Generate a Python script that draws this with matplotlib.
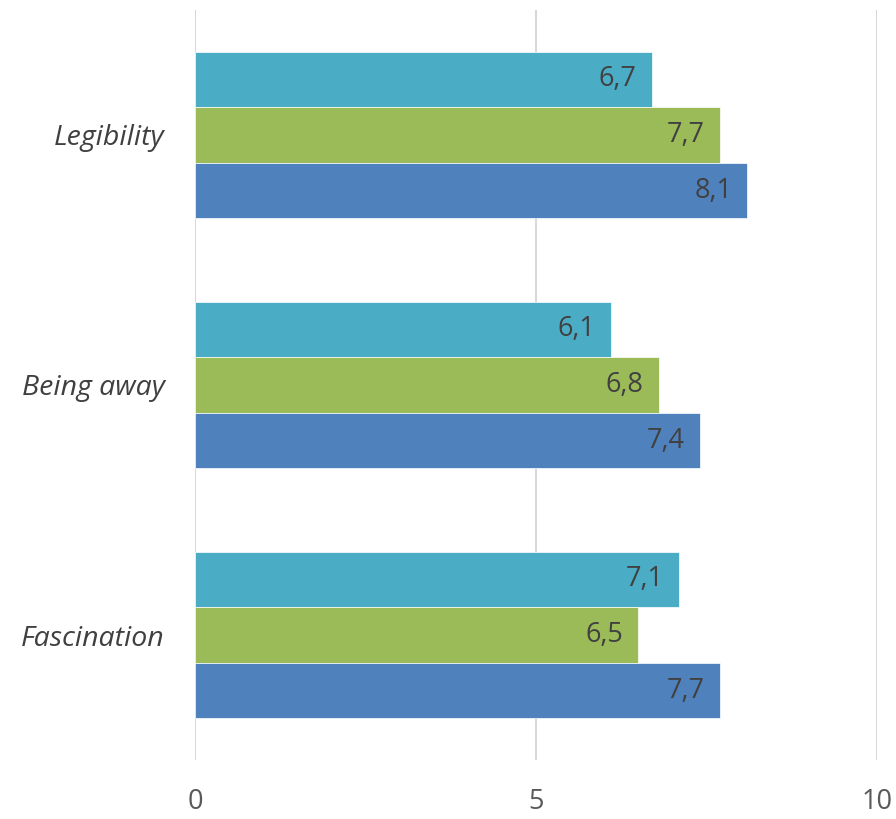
import matplotlib
matplotlib.use("Agg")
import matplotlib.pyplot as plt
import numpy as np

categories = ["Legibility", "Being away", "Fascination"]
series_blue = [8.1, 7.4, 7.7]
series_green = [7.7, 6.8, 6.5]
series_cyan = [6.7, 6.1, 7.1]
xticks = [0, 5, 10]

colors = {"blue": "#4F81BD", "green": "#9BBB59", "cyan": "#4BACC6"}

plt.rcParams['font.family'] = ['Open Sans', 'DejaVu Sans']

fig = plt.figure(figsize=(8.96, 8.19), dpi=100)
ax = fig.add_axes([195/896, (819-760)/819, (877-195)/896, 750/819])

y = np.arange(len(categories))
h = 0.222
for vals, col, off in [(series_cyan, colors["cyan"], -h),
                       (series_green, colors["green"], 0.0),
                       (series_blue, colors["blue"], h)]:
    bars = ax.barh(y + off, vals, height=h, color=col, edgecolor='white', linewidth=0.5, zorder=3)
    for b, v in zip(bars, vals):
        ax.annotate(f"{v:.1f}".replace('.', ','), (v, b.get_y() + b.get_height()/2),
                    xytext=(-11, 0), textcoords='offset points', ha='right', va='center',
                    fontsize=19.5, color='#404040', zorder=4)

ax.set_xlim(0, 10)
ax.set_ylim(2.5, -0.5)
ax.set_xticks(xticks)
ax.set_xticklabels([str(t) for t in xticks], fontsize=19.5, color='#595959')
ax.set_yticks(y)
ax.set_yticklabels(categories, fontsize=20.5, color='#404040', style='italic')
ax.tick_params(axis='x', length=0, pad=20)
ax.tick_params(axis='y', length=0, pad=22)
ax.grid(axis='x', color='#D9D9D9', linewidth=1.5, zorder=0)
for s in ax.spines.values():
    s.set_visible(False)

fig.savefig("out.png", dpi=100)
